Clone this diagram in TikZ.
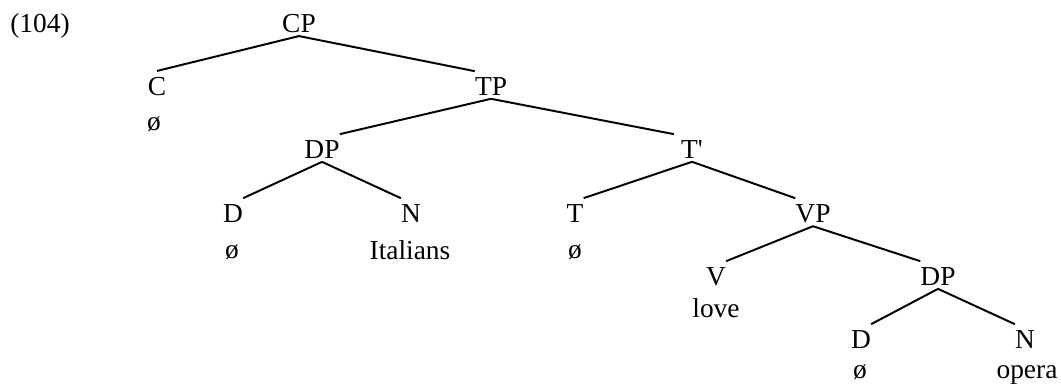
\documentclass[tikz,border=0pt]{standalone}
\usepackage{fontspec}
\setmainfont{Liberation Serif}
\usepackage{tikz}
\usetikzlibrary{positioning}

\begin{document}
\begin{tikzpicture}[
  cat/.style={inner xsep=0pt, inner ysep=2.5pt, anchor=base, font=\fontsize{19.5}{23}\selectfont},
  wrd/.style={inner sep=0pt, anchor=base, font=\fontsize{19.5}{23}\selectfont},
  br/.style={line width=1.4pt}
]
  \useasboundingbox (0,0) rectangle (26.525,-9.575);

  % Example number
  \node[wrd, anchor=base west] (num) at (0.25,-0.8) {(104)};

  % Clause level
  \node[cat] (cp) at (7.475,-0.8) {CP};
  \node[cat] (c) at (3.925,-2.375) {C};
  \node[wrd] (cw) at (3.85,-3.25) {ø};
  \node[cat] (tp) at (12.275,-2.375) {TP};

  % Subject DP
  \node[cat] (dp1) at (8.05,-3.95) {DP};
  \node[cat] (d1) at (5.825,-5.55) {D};
  \node[wrd] (d1w) at (5.8,-6.45) {ø};
  \node[cat] (n1) at (10.275,-5.55) {N};
  \node[wrd] (n1w) at (10.25,-6.475) {Italians};

  % T-bar
  \node[cat] (tb) at (17.3,-3.95) {T\textquotesingle};
  \node[cat] (t) at (14.375,-5.55) {T};
  \node[wrd] (tw) at (14.375,-6.45) {ø};

  % Verb phrase
  \node[cat] (vp) at (20.325,-5.55) {VP};
  \node[cat] (v) at (17.9,-7.125) {V};
  \node[wrd] (vw) at (17.9,-7.925) {love};

  % Object DP
  \node[cat] (dp2) at (23.45,-7.125) {DP};
  \node[cat] (d2) at (21.525,-8.7) {D};
  \node[wrd] (d2w) at (21.5,-9.45) {ø};
  \node[cat] (n2) at (25.625,-8.7) {N};
  \node[wrd] (n2w) at (25.675,-9.45) {opera};

  % Branches
  \draw[br] (cp.south) -- ([yshift=1.5pt]c.north);
  \draw[br] (cp.south) -- ([yshift=1.5pt]tp.north west);
  \draw[br] (tp.south) -- ([yshift=1.5pt]dp1.north east);
  \draw[br] (tp.south) -- ([yshift=1.5pt,xshift=-5pt]tb.north west);
  \draw[br] (dp1.south) -- ([yshift=1.5pt]d1.north east);
  \draw[br] (dp1.south) -- ([yshift=1.5pt]n1.north west);
  \draw[br] (tb.south) -- ([yshift=1.5pt]t.north east);
  \draw[br] (tb.south) -- ([yshift=1.5pt]vp.north west);
  \draw[br] (vp.south) -- ([yshift=1.5pt]v.north east);
  \draw[br] (vp.south) -- ([yshift=1.5pt]dp2.north west);
  \draw[br] (dp2.south) -- ([yshift=1.5pt]d2.north east);
  \draw[br] (dp2.south) -- ([yshift=1.5pt]n2.north west);

\end{tikzpicture}
\end{document}
